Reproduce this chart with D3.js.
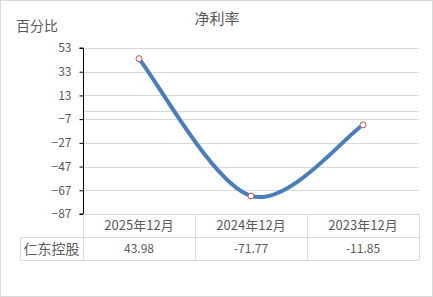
<!DOCTYPE html>
<html>
<head>
<meta charset="utf-8">
<script src="https://cdn.jsdelivr.net/npm/d3@7"></script>
<style>
  body { margin: 0; background: #fff; }
  svg text { font-family: "Noto Sans CJK SC", "Noto Sans", sans-serif; fill: #595959; }
</style>
</head>
<body>
<div id="chart"></div>
<script>
var categories = ['2025年12月', '2024年12月', '2023年12月'];
var seriesName = '仁东控股';
var values = [43.98, -71.77, -11.85];
var valueLabels = ['43.98', '-71.77', '-11.85'];
var yTicks = [53, 33, 13, -7, -27, -47, -67, -87];

(function() {
  var width = 433;
  var height = 297;
  var plotLeft = 83, plotRight = 419, plotTop = 48, plotBottom = 214;
  var rowH = 23;

  var svg = d3.select('#chart').append('svg')
    .attr('width', width)
    .attr('height', height);

  // outer border
  svg.append('rect')
    .attr('x', 0.5).attr('y', 0.5)
    .attr('width', width - 1).attr('height', height - 1)
    .attr('fill', '#fff')
    .attr('stroke', '#d9d9d9');

  var xScale = d3.scaleBand().domain(categories).range([plotLeft, plotRight]);
  var yScale = d3.scaleLinear().domain([-87, 53]).range([plotBottom, plotTop]);

  // gridlines
  svg.append('g').selectAll('line')
    .data(yTicks.concat([0]))
    .enter().append('line')
    .attr('x1', plotLeft).attr('x2', plotRight)
    .attr('y1', function(d) { return Math.round(yScale(d)) + 0.5; })
    .attr('y2', function(d) { return Math.round(yScale(d)) + 0.5; })
    .attr('stroke', '#d9d9d9');

  // y-axis
  var yAxis = d3.axisLeft(yScale)
    .tickValues(yTicks)
    .tickSize(4)
    .tickPadding(8);
  var yg = svg.append('g')
    .attr('transform', 'translate(' + (plotLeft + 0.5) + ',0)')
    .call(yAxis);
  yg.select('.domain').attr('stroke', '#000')
    .attr('d', 'M-4,' + plotTop + 'H0V' + plotBottom + 'H-4');
  yg.selectAll('.tick line').attr('stroke', '#000');
  yg.selectAll('.tick text').style('font-size', '12px').attr('fill', '#595959');

  // table
  var table = svg.append('g');
  var tableLeft = 20;
  [[plotLeft, plotBottom], [tableLeft, plotBottom + rowH], [tableLeft, plotBottom + rowH * 2]].forEach(function(p) {
    table.append('line')
      .attr('x1', p[0]).attr('x2', plotRight)
      .attr('y1', Math.round(p[1]) + 0.5).attr('y2', Math.round(p[1]) + 0.5)
      .attr('stroke', '#d9d9d9');
  });
  table.append('line')
    .attr('x1', tableLeft + 0.5).attr('x2', tableLeft + 0.5)
    .attr('y1', plotBottom + rowH).attr('y2', plotBottom + rowH * 2)
    .attr('stroke', '#d9d9d9');
  categories.forEach(function(c) {
    var x = Math.round(xScale(c) + xScale.bandwidth()) + 0.5;
    table.append('line')
      .attr('x1', x).attr('x2', x)
      .attr('y1', plotBottom).attr('y2', plotBottom + rowH * 2)
      .attr('stroke', '#d9d9d9');
  });
  table.append('line')
    .attr('x1', plotLeft + 0.5).attr('x2', plotLeft + 0.5)
    .attr('y1', plotBottom).attr('y2', plotBottom + rowH * 2)
    .attr('stroke', '#d9d9d9');

  table.selectAll('text.cat')
    .data(categories)
    .enter().append('text')
    .attr('class', 'cat')
    .attr('x', function(d) { return xScale(d) + xScale.bandwidth() / 2; })
    .attr('y', plotBottom + rowH / 2 + 4.5)
    .attr('text-anchor', 'middle')
    .style('font-size', '13px')
    .text(function(d) { return d; });

  table.selectAll('text.val')
    .data(valueLabels)
    .enter().append('text')
    .attr('class', 'val')
    .attr('x', function(d, i) { return xScale(categories[i]) + xScale.bandwidth() / 2; })
    .attr('y', plotBottom + rowH * 1.5 + 4.5)
    .attr('text-anchor', 'middle')
    .style('font-size', '12px')
    .text(function(d) { return d; });

  table.append('text')
    .attr('x', (tableLeft + plotLeft) / 2)
    .attr('y', plotBottom + rowH * 1.5 + 5)
    .attr('text-anchor', 'middle')
    .style('font-size', '14px')
    .text(seriesName);

  // smoothed line, excel-style: control points at 1/6 of neighbour span,
  // end points repeated so the first/last tangent heads toward the neighbour.
  var pts = values.map(function(v, i) {
    return [xScale(categories[i]) + xScale.bandwidth() / 2, yScale(v)];
  });
  var path = d3.path();
  path.moveTo(pts[0][0], pts[0][1]);
  for (var i = 0; i < pts.length - 1; i++) {
    var p0 = pts[Math.max(i - 1, 0)];
    var p1 = pts[i];
    var p2 = pts[i + 1];
    var p3 = pts[Math.min(i + 2, pts.length - 1)];
    path.bezierCurveTo(
      p1[0] + (p2[0] - p0[0]) / 6, p1[1] + (p2[1] - p0[1]) / 6,
      p2[0] - (p3[0] - p1[0]) / 6, p2[1] - (p3[1] - p1[1]) / 6,
      p2[0], p2[1]);
  }

  svg.append('path')
    .attr('d', path.toString())
    .attr('fill', 'none')
    .attr('stroke', '#4a7ebb')
    .attr('stroke-width', 4)
    .attr('stroke-linecap', 'round');

  svg.selectAll('circle.pt')
    .data(values)
    .enter().append('circle')
    .attr('class', 'pt')
    .attr('cx', function(d, i) { return xScale(categories[i]) + xScale.bandwidth() / 2; })
    .attr('cy', function(d) { return yScale(d); })
    .attr('r', 3)
    .attr('fill', '#fff')
    .attr('stroke', '#c0504d')
    .attr('stroke-width', 1);

  // title and unit
  svg.append('text')
    .attr('x', 217).attr('y', 24)
    .attr('text-anchor', 'middle')
    .style('font-size', '15px')
    .text('净利率');

  svg.append('text')
    .attr('x', 16).attr('y', 31)
    .style('font-size', '14px')
    .text('百分比');
})();
</script>
</body>
</html>
